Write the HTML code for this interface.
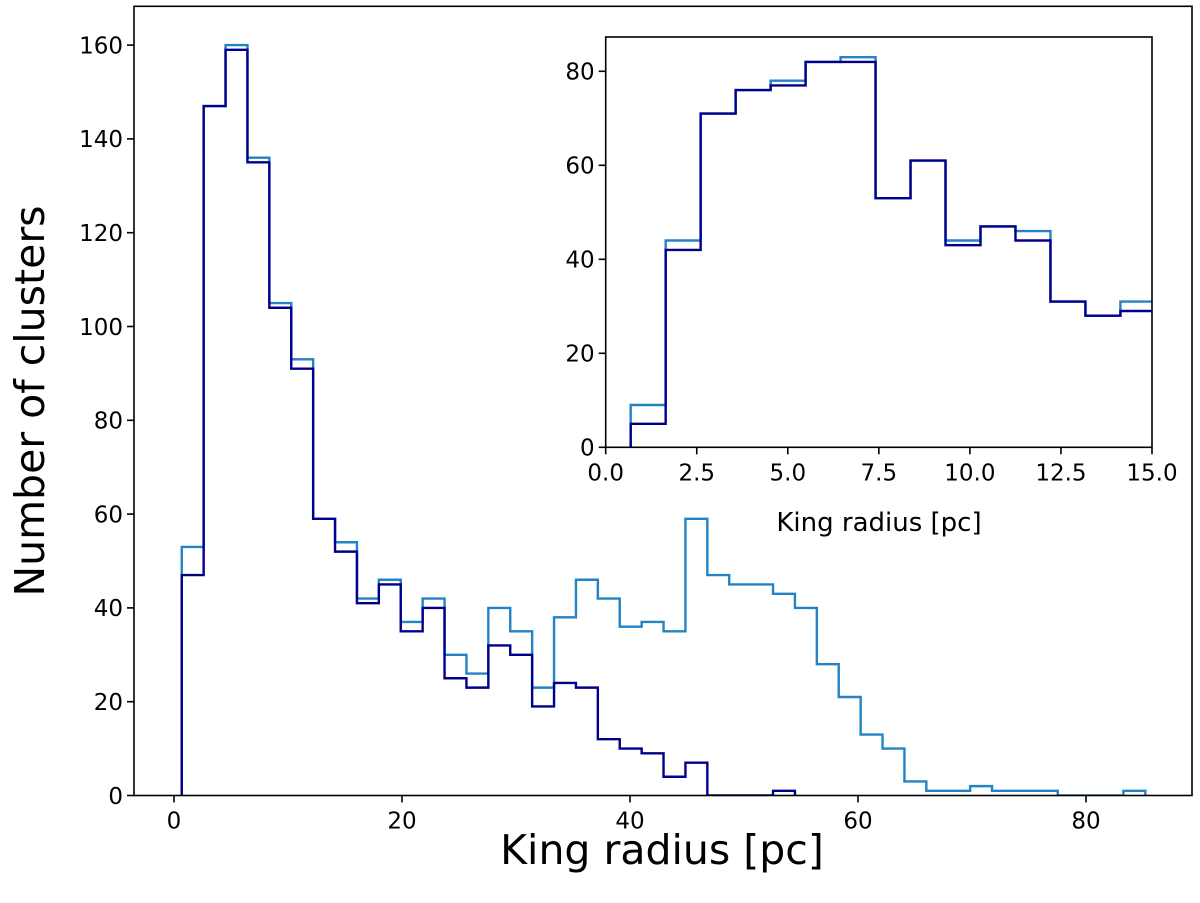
<!DOCTYPE html>
<html><head><meta charset="utf-8"><style>
body{margin:0;background:#fff;}
svg{display:block;font-family:"DejaVu Sans","Liberation Sans",sans-serif;}
</style></head><body>
<svg id="chart" width="1200" height="903" viewBox="0 0 1200 903"></svg>
<script>
const mainEdgeStart = 0.68;
const mainBinWidth = 1.921;
const mainAll = [53,147,160,136,105,93,59,54,42,46,37,42,30,26,40,35,23,38,46,42,36,37,35,59,47,45,45,43,40,28,21,13,10,3,1,1,2,1,1,1,0,0,0,1];
const mainSub = [47,147,159,135,104,91,59,52,41,45,35,40,25,23,32,30,19,24,23,12,10,9,4,7,0,0,0,1];
const mainXTicks = [0,20,40,60,80];
const mainYTicks = [0,20,40,60,80,100,120,140,160];
const insetEdgeStart = 0.686;
const insetBinWidth = 0.9605;
const insetAll = [9,44,71,76,78,82,83,53,61,44,47,46,31,28,31,30];
const insetSub = [5,42,71,76,77,82,82,53,61,43,47,44,31,28,29,29];
const insetXTicks = ["0.0","2.5","5.0","7.5","10.0","12.5","15.0"];
const insetYTicks = [0,20,40,60,80];

const NS="http://www.w3.org/2000/svg";
const svg=document.getElementById('chart');
function mk(tag,attrs,parent){const e=document.createElementNS(NS,tag);for(const k in attrs)e.setAttribute(k,attrs[k]);(parent||svg).appendChild(e);return e;}

function drawAxes(g,box,xmin,xmax,ymin,ymax,xt,yt,fs,prefix){
  const sx=v=>box.l+(v-xmin)/(xmax-xmin)*(box.r-box.l);
  const sy=v=>box.b-(v-ymin)/(ymax-ymin)*(box.b-box.t);
  xt.forEach(t=>{const v=parseFloat(t);const x=sx(v);
    const tk=mk('line',{x1:x,x2:x,y1:box.b,y2:box.b+7,stroke:'#000','stroke-width':1.6},g);
    
    
    const tx=mk('text',{x:x,y:box.b+10+fs,'font-size':fs,'text-anchor':'middle'},g);tx.textContent=t;
    
    
  });
  yt.forEach(v=>{const y=sy(v);
    const tk=mk('line',{x1:box.l-7,x2:box.l,y1:y,y2:y,stroke:'#000','stroke-width':1.6},g);
    
    
    const tx=mk('text',{x:box.l-11,y:y+fs*0.36,'font-size':fs,'text-anchor':'end'},g);tx.textContent=v;
    
    
  });
  return {sx,sy};
}
function stepPath(vals,start,w,sx,sy){
  let d='M'+sx(start)+','+sy(0);
  vals.forEach((v,i)=>{const x0=sx(start+i*w),x1=sx(start+(i+1)*w);d+=' L'+x0+','+sy(v)+' L'+x1+','+sy(v);});
  d+=' L'+sx(start+vals.length*w)+','+sy(0);
  return d;
}

// main
const mb={l:134,r:1192,t:6.3,b:795.5};
const gm=mk('g',{});


const ma=drawAxes(gm,mb,(174-134)/-11.4,(1192-174)/11.4,0,(795.5-6.3)/4.69,mainXTicks.map(String),mainYTicks,23,'main-');
const cpm=mk('clipPath',{id:'cm'});mk('rect',{x:mb.l,y:mb.t,width:mb.r-mb.l,height:mb.b-mb.t},cpm);
const p1=mk('path',{d:stepPath(mainAll,mainEdgeStart,mainBinWidth,ma.sx,ma.sy),fill:'none',stroke:'#2383c4','stroke-width':2.4,'clip-path':'url(#cm)'},gm);


const p2=mk('path',{d:stepPath(mainSub,mainEdgeStart,mainBinWidth,ma.sx,ma.sy),fill:'none',stroke:'#00008b','stroke-width':2.4,'clip-path':'url(#cm)'},gm);


const fm=mk('rect',{x:mb.l,y:mb.t,width:mb.r-mb.l,height:mb.b-mb.t,fill:'none',stroke:'#000','stroke-width':1.6},gm);


const xl=mk('text',{x:662,y:864,'font-size':41,'text-anchor':'middle'},gm);xl.textContent='King radius [pc]';


const yl=mk('text',{x:0,y:0,'font-size':41,'text-anchor':'middle',transform:'translate(44,401) rotate(-90)'},gm);yl.textContent='Number of clusters';



// inset
const ib={l:605.7,r:1152,t:37,b:447.3};
const gi=mk('g',{});


mk('rect',{x:ib.l,y:ib.t,width:ib.r-ib.l,height:ib.b-ib.t,fill:'#fff'},gi);
const ia=drawAxes(gi,ib,0,15,0,(447.3-37)/4.7,insetXTicks,insetYTicks,23,'inset-');
const cpi=mk('clipPath',{id:'ci'});mk('rect',{x:ib.l,y:ib.t,width:ib.r-ib.l,height:ib.b-ib.t},cpi);
const q1=mk('path',{d:stepPath(insetAll,insetEdgeStart,insetBinWidth,ia.sx,ia.sy),fill:'none',stroke:'#2383c4','stroke-width':2.4,'clip-path':'url(#ci)'},gi);


const q2=mk('path',{d:stepPath(insetSub,insetEdgeStart,insetBinWidth,ia.sx,ia.sy),fill:'none',stroke:'#00008b','stroke-width':2.4,'clip-path':'url(#ci)'},gi);


const fi=mk('rect',{x:ib.l,y:ib.t,width:ib.r-ib.l,height:ib.b-ib.t,fill:'none',stroke:'#000','stroke-width':1.6},gi);


const il=mk('text',{x:879,y:531,'font-size':26,'text-anchor':'middle'},gi);il.textContent='King radius [pc]';


</script>
</body></html>
